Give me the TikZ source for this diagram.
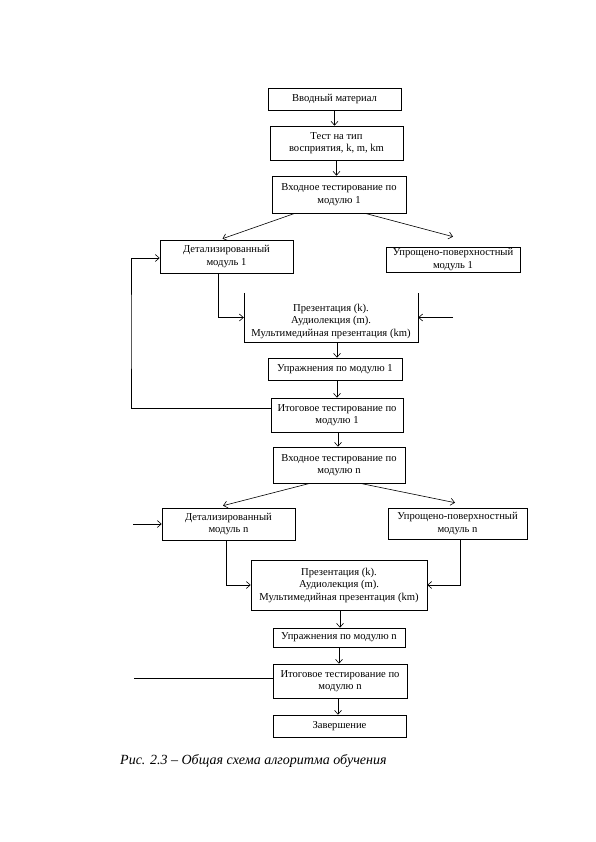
\documentclass[tikz,border=0pt]{standalone}
\usepackage{fontspec}
\setmainfont{Liberation Serif}
\usetikzlibrary{arrows.meta}
\begin{document}
\begin{tikzpicture}[x=1pt,y=-1pt,
  box/.style={draw,line width=0.6pt,align=center,inner sep=1pt,font=\fontsize{10.6}{12.5}\selectfont},
  plain/.style={align=center,inner sep=1pt,font=\fontsize{10.6}{12.5}\selectfont},
  conn/.style={line width=0.6pt},
  arr/.style={conn,-{Straight Barb[length=4pt,width=7pt]}}]
\fill[white] (0,0) rectangle (595,842);
\useasboundingbox (0,0) rectangle (595,842);
% top part
\node[box,minimum width=133pt,minimum height=22pt] (intro) at (334.5,99) {Вводный материал};
\node[box,minimum width=133pt,minimum height=34pt] (test) at (336.5,143) {Тест на тип\\восприятия, k, m, km};
\node[box,minimum width=134pt,minimum height=37pt] (in1) at (339,194.5) {Входное тестирование по\\модулю 1};
\node[box,minimum width=133pt,minimum height=33pt] (det1) at (226.5,256.5) {Детализированный\\модуль 1};
\node[box,minimum width=134pt,minimum height=25pt] (upr1) at (453,259.5) {Упрощено-поверхностный\\модуль 1};
\node[plain,minimum width=174pt,minimum height=49pt] (pres1) at (331,321) {Презентация (k).\\Аудиолекция (m).\\Мультимедийная презентация (km)};
\draw[conn] ([yshift=3.5pt]pres1.north west) -- ([yshift=3.5pt]pres1.south west) -- ([yshift=3.5pt]pres1.south east) -- ([yshift=3.5pt]pres1.north east);
\node[box,minimum width=134pt,minimum height=22pt] (ex1) at (335,369) {Упражнения по модулю 1};
\node[box,minimum width=132pt,minimum height=34pt] (fin1) at (337,415) {Итоговое тестирование по\\модулю 1};
% module n
\node[box,minimum width=132pt,minimum height=36pt] (inn) at (339,465) {Входное тестирование по\\модулю n};
\node[box,minimum width=133pt,minimum height=32pt] (detn) at (228.5,524) {Детализированный\\модуль n};
\node[box,minimum width=139pt,minimum height=31pt] (uprn) at (457.5,523.5) {Упрощено-поверхностный\\модуль n};
\node[box,minimum width=176pt,minimum height=50pt] (presn) at (339,585) {Презентация (k).\\Аудиолекция (m).\\Мультимедийная презентация (km)};
\node[box,minimum width=132pt,minimum height=19pt] (exn) at (339,637.5) {Упражнения по модулю n};
\node[box,minimum width=134pt,minimum height=34pt] (finn) at (340,681) {Итоговое тестирование по\\модулю n};
\node[box,minimum width=133pt,minimum height=22pt] (end) at (339.5,726) {Завершение};
\node[anchor=west,inner sep=0pt,font=\fontsize{14}{16}\selectfont\itshape] (cap) at (120,761) {Рис. 2.3 – Общая схема алгоритма обучения};
% free ends
\coordinate (r1) at (453,317.5);
\coordinate (fb) at (131,330);
\coordinate (ln) at (133,524);
\coordinate (fn) at (134,678);
% connectors
\draw[arr] (intro.south) -- (intro.south |- test.north);
\draw[arr] (test.south) -- (test.south |- in1.north);
\draw[arr] ([xshift=-44pt]in1.south) -- ([xshift=-4pt,yshift=1pt]det1.north);
\draw[arr] ([xshift=26pt]in1.south) -- ([yshift=10pt]upr1.north);
\draw[arr] ([xshift=-8.5pt]det1.south) |- (pres1.west |- r1);
\draw[arr] (r1) -- (pres1.east |- r1);
\draw[arr] ([xshift=6pt,yshift=3.5pt]pres1.south) -- ([xshift=6pt]pres1.south |- ex1.north);
\draw[arr] ([xshift=2pt]ex1.south) -- ([xshift=2pt]ex1.south |- fin1.north);
\draw[arr] ([yshift=7pt]fin1.west) -| (fb) |- ([yshift=-1.5pt]det1.west);
\draw[arr] ([xshift=1pt]fin1.south) -- ([xshift=1pt]fin1.south |- inn.north);
\draw[arr] ([xshift=-29pt]inn.south) -- ([xshift=-5.5pt,yshift=2pt]detn.north);
\draw[arr] ([xshift=21pt]inn.south) -- ([xshift=-2.5pt,yshift=5pt]uprn.north);
\draw[arr] (ln) -- (detn.west);
\draw[arr] ([xshift=-2.5pt]detn.south) |- (presn.west);
\draw[arr] ([xshift=2.5pt]uprn.south) |- (presn.east);
\draw[arr] ([xshift=1pt]presn.south) -- ([xshift=1pt]presn.south |- exn.north);
\draw[arr] (exn.south) -- (exn.south |- finn.north);
\draw[conn] ([yshift=3pt]finn.west) -- (fn);
\draw[arr] ([xshift=-2pt]finn.south) -- ([xshift=-2pt]finn.south |- end.north);
\end{tikzpicture}
\end{document}
